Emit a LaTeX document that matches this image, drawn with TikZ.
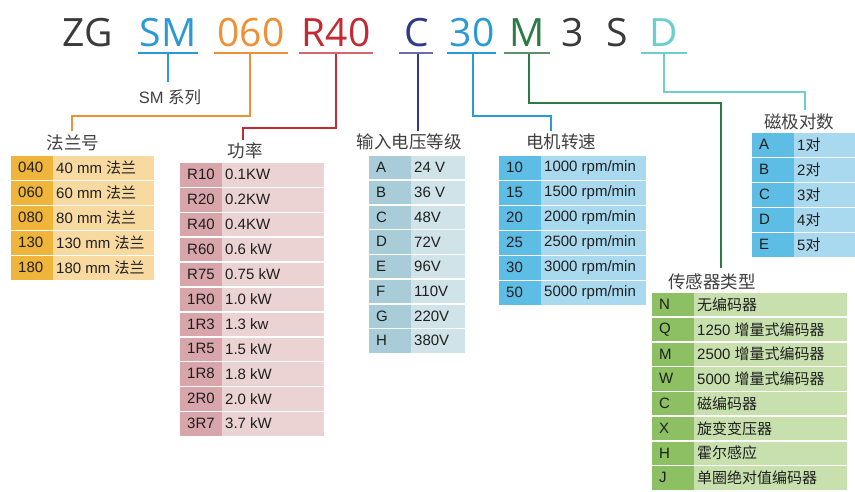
\documentclass[tikz,border=0pt]{standalone}
\usepackage{fontspec}
\setmainfont{Liberation Sans}
\newfontfamily\cjk{Noto Sans CJK SC}
\newfontfamily\titlefont{Open Sans}
\definecolor{cDark}{HTML}{3A3A3A}
\definecolor{cHead}{HTML}{404040}
\definecolor{cSM}{HTML}{2A9AD5}
\definecolor{cOr}{HTML}{EE9035}
\definecolor{cRed}{HTML}{C42A33}
\definecolor{cRedL}{HTML}{D9646E}
\definecolor{cNavy}{HTML}{2F3A8A}
\definecolor{cNavyL}{HTML}{6A6CA8}
\definecolor{cGreen}{HTML}{2E7A45}
\definecolor{cGreenL}{HTML}{5E8F6A}
\definecolor{cTeal}{HTML}{6CCFCF}
\definecolor{fOrC}{HTML}{EFB43A}
\definecolor{fOrV}{HTML}{F8D9A0}
\definecolor{fPkC}{HTML}{D8A5AA}
\definecolor{fPkV}{HTML}{EBD3D4}
\definecolor{fGyC}{HTML}{A8CDD9}
\definecolor{fGyV}{HTML}{CFE3E9}
\definecolor{fBlC}{HTML}{5EBDE4}
\definecolor{fBlV}{HTML}{A9D9EE}
\definecolor{fGrC}{HTML}{8DC063}
\definecolor{fGrV}{HTML}{C7E0AD}
\newcommand\rpmmin{rpm/min}
\tikzset{
  tbl/.style={font=\fontsize{15}{18}\selectfont, inner sep=0pt, anchor=west, text=black!88},
  cellbox/.style={inner sep=0pt, anchor=north west, draw=none},
  head/.style={font=\cjk\fontsize{17.5}{20}\selectfont, text=cHead, inner sep=0pt},
  ttl/.style={font=\titlefont\fontsize{39}{44}\selectfont, anchor=base, inner sep=0pt},
  uline/.style={line width=2pt},
  conn/.style={line width=1.4pt},
}
\newcommand\codetable[9]{%
  \foreach \cd/\vl [count=\i from 0] in {#9}{
    \node[cellbox, fill=#7, minimum width={(#3-#2)*1pt}, minimum height={(#6-1.5)*1pt}] (#1c\i) at ({#2},{#5+\i*#6}) {};
    \node[cellbox, fill=#8, minimum width={(#4-#3)*1pt}, minimum height={(#6-1.5)*1pt}] (#1v\i) at ({#3},{#5+\i*#6}) {};
    \node[tbl] (#1ct\i) at ([xshift=7pt, yshift=0.3pt]#1c\i.west) {\cd};
    \node[tbl] (#1vt\i) at ([xshift=3pt, yshift=0.3pt]#1v\i.west) {\vl};
  }}
\begin{document}
\begin{tikzpicture}[x=1pt, y=-1pt]
\fill[white] (0,0) rectangle (855,491);
\useasboundingbox (0,0) rectangle (855,491);
% title letters
\node[ttl, text=cDark] (tZG) at (88,46) {ZG};
\node[ttl, text=cSM] (tSM) at (168,46) {SM};
\node[ttl, text=cOr] (t060) at (251,46) {060};
\node[ttl, text=cRed] (tR40) at (336,46) {R40};
\node[ttl, text=cNavy] (tC) at (417,46) {C};
\node[ttl, text=cSM] (t30) at (472,46) {30};
\node[ttl, text=cGreen] (tM) at (527,46) {M};
\node[ttl, text=cDark] (t3) at (573,46) {3};
\node[ttl, text=cDark] (tS) at (617,46) {S};
\node[ttl, text=cTeal] (tD) at (664,46) {D};
% underlines
\draw[uline, cSM] (138,53) -- (198,53);
\draw[uline, cOr] (214,53) -- (288,53);
\draw[uline, cRedL] (299,53) -- (373,53);
\draw[uline, cNavyL] (399,53) -- (433,53);
\draw[uline, cSM] (447,53) -- (496,53);
\draw[uline, cGreenL] (504,53) -- (550,53);
\draw[uline, cTeal] (641,53) -- (687,53);
% headings
\node[font=\fontsize{16.5}{18}\selectfont, text=cHead, inner sep=0pt] (lSM) at (170,97) {SM {\cjk 系列}};
\node[head] (hFlange) at (73,143) {法兰号};
\node[head] (hPower) at (245,151) {功率};
\node[head] (hVolt) at (409,142) {输入电压等级};
\node[head] (hSpeed) at (561,142) {电机转速};
\node[head] (hPoles) at (799,122) {磁极对数};
\node[head] (hSensor) at (712,282) {传感器类型};
% connector coordinates
\coordinate (uSM) at (168,54); \coordinate (eSM) at (168,82);
\coordinate (u060) at (250,54); \coordinate (k060) at (72,116); \coordinate (e060) at (72,131);
\coordinate (uR40) at (336,54); \coordinate (kR40) at (243,128); \coordinate (eR40) at (243,140);
\coordinate (uC) at (418,54); \coordinate (eC) at (418,131);
\coordinate (u30) at (473,54); \coordinate (k30) at (551,116); \coordinate (e30) at (551,131);
\coordinate (uM) at (529,54); \coordinate (kM) at (721,103); \coordinate (eM) at (721,268);
\coordinate (uD) at (664,54); \coordinate (kD) at (805,92); \coordinate (eD) at (805,110);
% connectors
\draw[conn, cSM] (uSM) -- (eSM);
\draw[conn, cOr] (u060) |- (k060) -- (e060);
\draw[conn, cRed] (uR40) |- (kR40) -- (eR40);
\draw[conn, cNavy] (uC) -- (eC);
\draw[conn, cSM] (u30) |- (k30) -- (e30);
\draw[conn, cGreen] (uM) |- (kM) -- (eM);
\draw[conn, cTeal] (uD) |- (kD) -- (eD);
% tables
\codetable{fl}{11}{53}{154}{156}{25}{fOrC}{fOrV}{040/40 mm {\cjk 法兰}, 060/60 mm {\cjk 法兰}, 080/80 mm {\cjk 法兰}, 130/130 mm {\cjk 法兰}, 180/180 mm {\cjk 法兰}}
\codetable{pw}{180}{222}{324}{163}{24.9}{fPkC}{fPkV}{R10/0.1KW, R20/0.2KW, R40/0.4KW, R60/0.6 kW, R75/0.75 kW, 1R0/1.0 kW, 1R3/1.3 kw, 1R5/1.5 kW, 1R8/1.8 kW, 2R0/2.0 kW, 3R7/3.7 kW}
\codetable{vo}{369}{411}{465}{156}{24.75}{fGyC}{fGyV}{A/24 V, B/36 V, C/48V, D/72V, E/96V, F/110V, G/220V, H/380V}
\codetable{sp}{499}{541}{646}{156}{25}{fBlC}{fBlV}{10/1000 \rpmmin, 15/1500 \rpmmin, 20/2000 \rpmmin, 25/2500 \rpmmin, 30/3000 \rpmmin, 50/5000 \rpmmin}
\codetable{po}{752}{794}{855}{133}{25}{fBlC}{fBlV}{A/1{\cjk 对}, B/2{\cjk 对}, C/3{\cjk 对}, D/4{\cjk 对}, E/5{\cjk 对}}
\codetable{se}{652}{694}{847}{293}{24.75}{fGrC}{fGrV}{N/{\cjk 无编码器}, Q/1250 {\cjk 增量式编码器}, M/2500 {\cjk 增量式编码器}, W/5000 {\cjk 增量式编码器}, C/{\cjk 磁编码器}, X/{\cjk 旋变变压器}, H/{\cjk 霍尔感应}, J/{\cjk 单圈绝对值编码器}}
\end{tikzpicture}
\end{document}
